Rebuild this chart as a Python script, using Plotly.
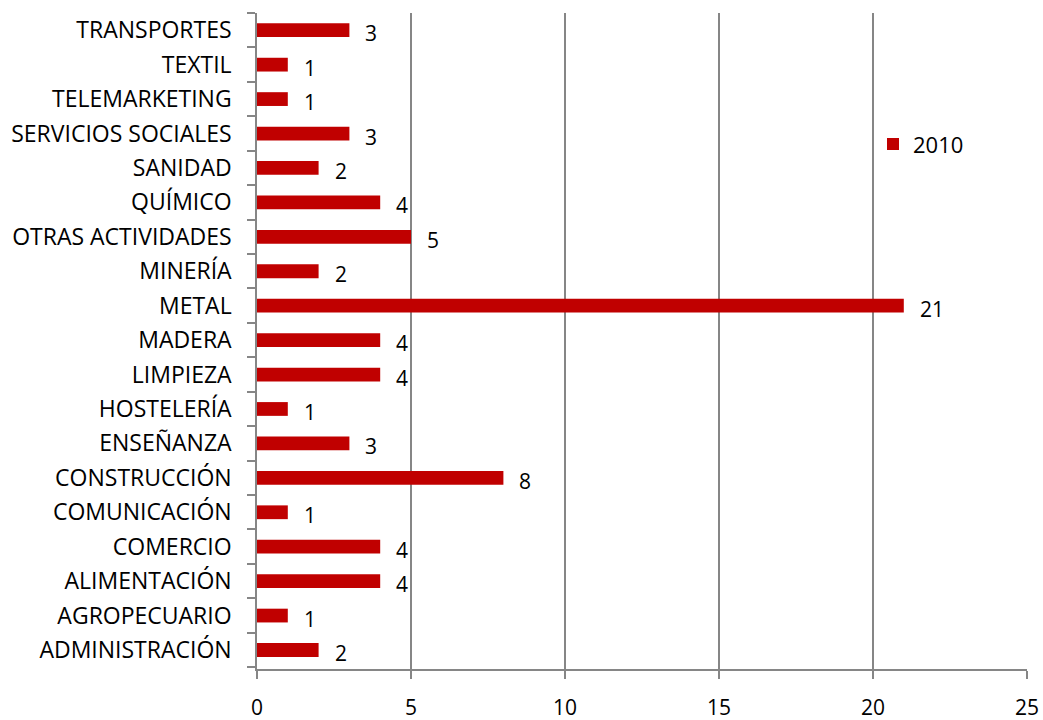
import plotly.graph_objects as go

categories = ["ADMINISTRACIÓN", "AGROPECUARIO", "ALIMENTACIÓN", "COMERCIO", "COMUNICACIÓN",
              "CONSTRUCCIÓN", "ENSEÑANZA", "HOSTELERÍA", "LIMPIEZA", "MADERA", "METAL",
              "MINERÍA", "OTRAS ACTIVIDADES", "QUÍMICO", "SANIDAD", "SERVICIOS SOCIALES",
              "TELEMARKETING", "TEXTIL", "TRANSPORTES"]
values_2010 = [2, 1, 4, 4, 1, 8, 3, 1, 4, 4, 21, 2, 5, 4, 2, 3, 1, 1, 3]
x_ticks = [0, 5, 10, 15, 20, 25]
series_name = "2010"

FONT = "Open Sans"
GRID = "#868686"

fig = go.Figure()
fig.add_trace(go.Bar(
    y=categories, x=values_2010, orientation="h", name=series_name,
    marker=dict(color="#C00000", line=dict(width=0)), width=0.4,
))

for c, v in zip(categories, values_2010):
    fig.add_annotation(x=v, y=c, text=str(v), showarrow=False, xanchor="left",
                       xshift=14, yshift=-3, font=dict(family=FONT, size=21, color="#000"))

fig.update_layout(
    width=1043, height=720,
    margin=dict(l=257, r=16, t=13, b=51, autoexpand=False),
    plot_bgcolor="white", paper_bgcolor="white",
    showlegend=True,
    legend=dict(x=0.80, y=0.80, xanchor="left", yanchor="middle",
                font=dict(family=FONT, size=22, color="#000"),
                bgcolor="rgba(0,0,0,0)", itemwidth=30),
    font=dict(family=FONT, size=21, color="#000"),
    bargap=0.6,
)
fig.update_xaxes(range=[0, 25], tickvals=x_ticks, showgrid=True, gridcolor=GRID, gridwidth=1.5,
                 showline=True, linecolor=GRID, linewidth=1.5, ticks="outside", ticklen=8,
                 tickcolor=GRID, tickwidth=1.5, zeroline=False, ticklabelstandoff=11,
                 tickfont=dict(family=FONT, size=21, color="#000"))
fig.update_yaxes(categoryorder="array", categoryarray=categories, showgrid=False,
                 showline=True, linecolor=GRID, linewidth=1.5, ticks="outside", ticklen=8,
                 tickcolor=GRID, tickwidth=1.5, tickson="boundaries", ticklabelstandoff=19,
                 tickfont=dict(family=FONT, size=23, color="#000"))

fig.write_html("out.html", config={"displayModeBar": False},
               post_script="document.body.style.margin='0';document.body.style.overflow='hidden';")
